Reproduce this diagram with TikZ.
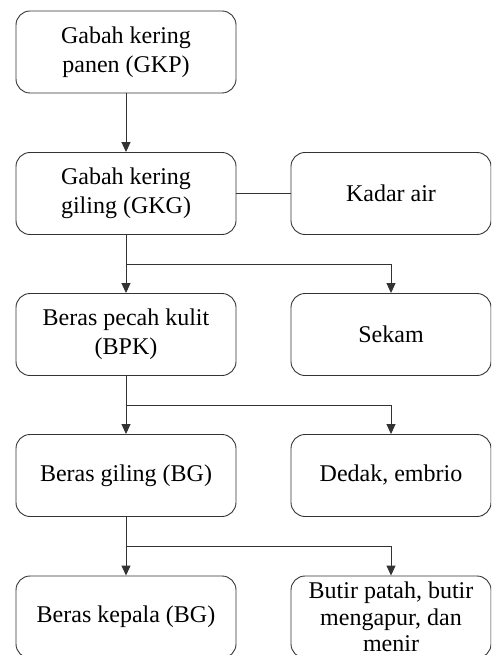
\documentclass[tikz,border=0pt]{standalone}
\usepackage{fontspec}
\setmainfont{Liberation Serif}
\usetikzlibrary{arrows.meta,calc}

\begin{document}
\begin{tikzpicture}[x=1pt,y=-1pt,
  box/.style={draw=black!80, line width=0.9pt, rounded corners=14pt,
    minimum width=220pt, minimum height=82pt, align=center,
    inner sep=0pt, font=\fontsize{24}{29}\selectfont},
  sidebox/.style={box, minimum width=200pt},
  arr/.style={draw=black!80, line width=0.9pt, -{Triangle[length=10pt,width=9pt]}},
  lnk/.style={draw=black!80, line width=0.9pt}]
\useasboundingbox (0,0) rectangle (491,655);
\clip (0,0) rectangle (491,655);

\node[box] (gkp) at (126,52) {Gabah kering\\panen (GKP)};
\node[box] (gkg) at (126,193.5) {Gabah kering\\giling (GKG)};
\node[box] (bpk) at (126,334.5) {Beras pecah kulit\\(BPK)};
\node[box] (bg) at (126,475.5) {Beras giling (BG)};
\node[box] (kepala) at (126,617) {Beras kepala (BG)};

\node[sidebox] (air) at (391,193.5) {Kadar air};
\node[sidebox] (sekam) at (391,334.5) {Sekam};
\node[sidebox] (dedak) at (391,475.5) {Dedak, embrio};
\node[sidebox, font=\fontsize{24}{27}\selectfont] (menir) at (391,617)
  {Butir patah, butir\\mengapur, dan\\[-1pt]menir};

\draw[arr] (gkp) -- (gkg);
\draw[lnk] (gkg) -- (air);

% cabang
\coordinate (c1) at ($(gkg.south)!0.5!(bpk.north)$);
\coordinate (c2) at ($(bpk.south)!0.5!(bg.north)$);
\coordinate (c3) at ($(bg.south)!0.5!(kepala.north)$);
\draw[arr] (gkg) -- (bpk);
\draw[arr] (c1) -| (sekam.north);
\draw[arr] (bpk) -- (bg);
\draw[arr] (c2) -| (dedak.north);
\draw[arr] (bg) -- (kepala);
\draw[arr] (c3) -| (menir.north);

\end{tikzpicture}
\end{document}
